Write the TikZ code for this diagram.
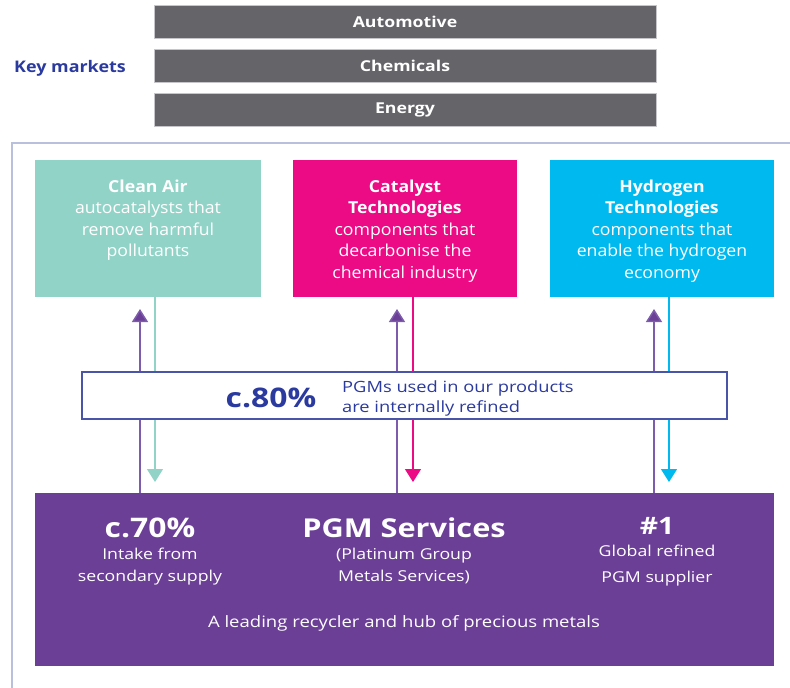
\documentclass[tikz,border=0pt]{standalone}
\usepackage{fontspec}
\setmainfont{Open Sans}
\newfontfamily\widefont[FakeStretch=1.18]{Open Sans}
\newfontfamily\cardfont[FakeStretch=1.07]{Open Sans}
\newfontfamily\keyfont[FakeStretch=1.12]{Open Sans}
\usetikzlibrary{arrows.meta,positioning}

\definecolor{jmgrey}{HTML}{646469}
\definecolor{jmbarline}{HTML}{C6C6CA}
\definecolor{jmblue}{HTML}{2B3A9E}
\definecolor{jmmid}{HTML}{4A55AA}
\definecolor{jmteal}{HTML}{92D3C8}
\definecolor{jmpink}{HTML}{EC0A85}
\definecolor{jmcyan}{HTML}{00B9EF}
\definecolor{jmpurple}{HTML}{6B3F96}
\definecolor{jmline}{HTML}{7D5CAB}
\definecolor{jmframe}{HTML}{B9C0DD}

\tikzset{
    bar/.style={draw=jmbarline, line width=1pt, fill=jmgrey, minimum width=502pt, minimum height=33pt,
        inner sep=0pt, text=white, font=\widefont\fontsize{15}{18}\selectfont\bfseries},
    card/.style={minimum width=224pt, minimum height=137pt, inner sep=0pt, outer sep=0pt},
    cardtext/.style={anchor=north, inner sep=0pt, align=center, text=white, font=\cardfont\fontsize{16.5}{21.5}\selectfont},
    purpletext/.style={inner sep=0pt, align=center, text=white, font=\widefont\fontsize{15}{22}\selectfont},
    bigfigure/.style={anchor=base, inner sep=0pt, text=white, font=\widefont\fontsize{24}{28}\selectfont\bfseries},
    uparrow/.style={draw=jmline, line width=1.5pt, -{Triangle[width=16pt,length=13pt,fill=jmpurple]}},
    downarrow/.style={line width=1.5pt, -{Triangle[width=16pt,length=13pt]}}
}

\begin{document}
\begin{tikzpicture}[x=1pt, y=-1pt]
        \useasboundingbox (0,0) rectangle (790,688);

        \node[bar] (automotive) at (405,21.5) {Automotive};
        \node[bar] (chemicals) at (405,65.5) {Chemicals};
        \node[bar] (energy) at (405,109.5) {Energy};
        \node[anchor=base, inner sep=0pt, text=jmblue, font=\keyfont\fontsize{16}{20}\selectfont\bfseries] (keymarkets) at (70,72) {Key markets};

        \draw[jmframe, line width=1.5pt] (12,688) -- (12,143) -- (790,143);

        \node[card, fill=jmteal, minimum width=226pt] (cleanair) at (148,228.5) {};
        \node[card, fill=jmpink] (catalyst) at (405,228.5) {};
        \node[card, fill=jmcyan] (hydrogen) at (662,228.5) {};
        \node[cardtext] (cleanairtext) at (148,179.5) {\textbf{Clean Air}\\autocatalysts that\\remove harmful\\pollutants};
        \node[cardtext] (catalysttext) at (405,179.5) {\textbf{Catalyst}\\\textbf{Technologies}\\components that\\decarbonise the\\chemical industry};
        \node[cardtext] (hydrogentext) at (662,179.5) {\textbf{Hydrogen}\\\textbf{Technologies}\\components that\\enable the hydrogen\\economy};

        \node[fill=jmpurple, minimum width=739pt, minimum height=173pt, inner sep=0pt, outer sep=0pt] (pgm) at (404.5,579.5) {};

        \coordinate (cleanairup) at (140,309);
        \coordinate (catalystup) at (397,309);
        \coordinate (hydrogenup) at (654,309);
        \coordinate (cleanairdown) at (155,482);
        \coordinate (catalystdown) at (413,482);
        \coordinate (hydrogendown) at (669,482);
        \draw[uparrow] (pgm.north -| cleanairup) -- (cleanairup);
        \draw[uparrow] (pgm.north -| catalystup) -- (catalystup);
        \draw[uparrow] (pgm.north -| hydrogenup) -- (hydrogenup);
        \draw[downarrow, jmteal] (cleanair.south -| cleanairdown) -- (cleanairdown);
        \draw[downarrow, jmpink] (catalyst.south -| catalystdown) -- (catalystdown);
        \draw[downarrow, jmcyan] (hydrogen.south -| hydrogendown) -- (hydrogendown);

        \node[draw=jmmid, line width=1.5pt, fill=white, minimum width=645pt, minimum height=47pt, inner sep=0pt] (refined) at (404.5,395.5) {};
        \node[anchor=base, inner sep=0pt, text=jmblue, font=\widefont\fontsize{27}{30}\selectfont\bfseries] (eighty) at (271,407) {c.80\%};
        \node[anchor=north west, inner sep=0pt, align=left, text=jmblue, font=\widefont\fontsize{15.5}{20}\selectfont] (eightytext) at (342,380.5) {PGMs used in our products\\are internally refined};

        \node[bigfigure, font=\widefont\fontsize{27}{30}\selectfont\bfseries] (seventy) at (150,537) {c.70\%};
        \node[purpletext, anchor=north] (seventytext) at (150,547.5) {Intake from\\secondary supply};
        \node[bigfigure, font=\widefont\fontsize{26}{30}\selectfont\bfseries] (services) at (404,537) {PGM Services};
        \node[purpletext, anchor=north] (servicestext) at (404,547.5) {(Platinum Group\\Metals Services)};
        \node[bigfigure] (first) at (657,534) {\#1};
        \node[purpletext, anchor=north, font=\widefont\fontsize{15}{26}\selectfont] (firsttext) at (657,544.5) {Global refined\\PGM supplier};
        \node[anchor=base, inner sep=0pt, text=white, font=\widefont\fontsize{15.7}{20}\selectfont] (leading) at (404,627) {A leading recycler and hub of precious metals};
    \end{tikzpicture}
\end{document}
